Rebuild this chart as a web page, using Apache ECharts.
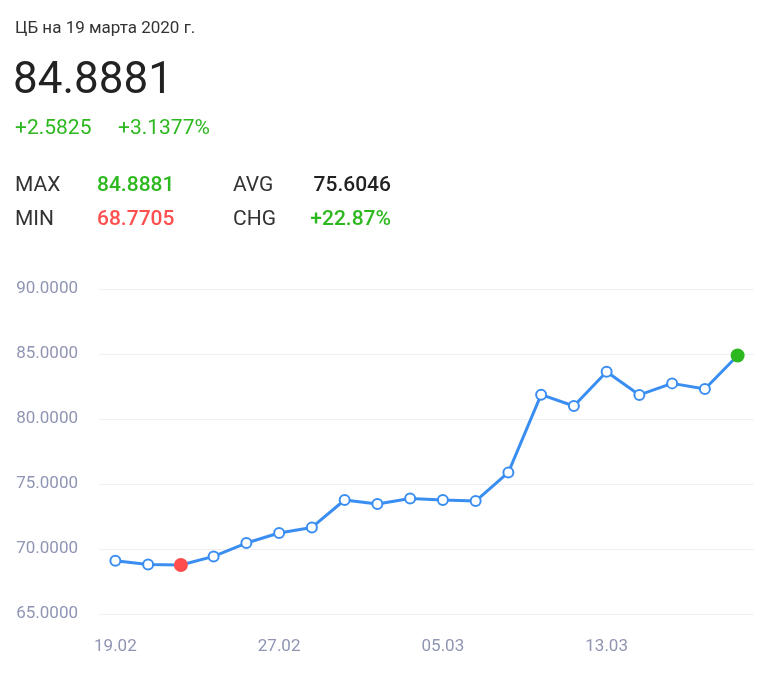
<!DOCTYPE html>
<html><head><meta charset="utf-8">
<script src="https://cdn.jsdelivr.net/npm/echarts@6/dist/echarts.min.js"></script>
<style>
html,body{margin:0;padding:0;background:#fff;width:768px;height:678px;overflow:hidden;font-family:Roboto,"Noto Sans",sans-serif;}
.t{position:absolute;white-space:nowrap;}
#chart{position:absolute;left:0;top:0;width:768px;height:678px;}
</style></head>
<body>
<div id="chart"></div>
<div class="t" style="left:15px;top:17px;font-size:17px;line-height:20px;color:#333;">ЦБ на 19 марта 2020 г.</div>
<div class="t" style="left:13px;top:52px;font-size:44px;line-height:52px;color:#222;">84.8881</div>
<div class="t" style="left:15px;top:115px;font-size:21px;line-height:24px;color:#2db81f;">+2.5825</div>
<div class="t" style="left:118px;top:115px;font-size:21px;line-height:24px;color:#2db81f;">+3.1377%</div>
<div class="t" style="left:15px;top:172px;font-size:21px;line-height:24px;color:#333;">MAX</div>
<div class="t" style="left:97px;top:172px;font-size:21px;line-height:24px;color:#2db81f;font-weight:500;">84.8881</div>
<div class="t" style="left:233px;top:172px;font-size:21px;line-height:24px;color:#333;">AVG</div>
<div class="t" style="left:271px;width:120px;text-align:right;top:172px;font-size:21px;line-height:24px;color:#222;font-weight:500;">75.6046</div>
<div class="t" style="left:15px;top:206px;font-size:21px;line-height:24px;color:#333;">MIN</div>
<div class="t" style="left:97px;top:206px;font-size:21px;line-height:24px;color:#ff5050;font-weight:500;">68.7705</div>
<div class="t" style="left:233px;top:206px;font-size:21px;line-height:24px;color:#333;">CHG</div>
<div class="t" style="left:271px;width:120px;text-align:right;top:206px;font-size:21px;line-height:24px;color:#2db81f;font-weight:500;">+22.87%</div>
<script>
var dates = ["19.02","20.02","21.02","22.02","26.02","27.02","28.02","29.02","03.03","04.03","05.03","06.03","07.03","11.03","12.03","13.03","14.03","17.03","18.03","19.03"];
var rates = [69.09,68.80,68.7705,69.43,70.46,71.23,71.66,73.77,73.46,73.89,73.77,73.69,75.89,81.87,81.00,83.64,81.85,82.74,82.3056,84.8881];
var yTicks = [65,70,75,80,85,90];
var minIndex = 2;
var maxIndex = 19;

var seriesData = rates.map(function(v,i){
  if(i===minIndex) return {value:v,symbol:'circle',symbolSize:14,itemStyle:{color:'#ff4d4d',borderWidth:0}};
  if(i===maxIndex) return {value:v,symbol:'circle',symbolSize:14,itemStyle:{color:'#2db81f',borderWidth:0}};
  return v;
});

var chart = echarts.init(document.getElementById('chart'),null,{renderer:'canvas'});
chart.setOption({
  animation:false,
  grid:{left:99,right:14,top:289,bottom:64,containLabel:false},
  xAxis:{type:'category',data:dates,boundaryGap:true,
    axisLine:{show:false},axisTick:{show:false},
    axisLabel:{interval:4,color:'#8f95b3',fontSize:17,margin:24,fontFamily:'Roboto'},
    splitLine:{show:false}},
  yAxis:{type:'value',min:yTicks[0],max:yTicks[yTicks.length-1],interval:5,
    axisLine:{show:false},axisTick:{show:false},
    axisLabel:{color:'#8f95b3',fontSize:17,margin:21,fontFamily:'Roboto',formatter:function(v){return v.toFixed(4);}},
    splitLine:{lineStyle:{color:'#eef0f5',width:1}}},
  series:[{type:'line',data:seriesData,
    lineStyle:{color:'#3a8ef2',width:3},
    itemStyle:{color:'#fff',borderColor:'#3a8ef2',borderWidth:2},
    symbol:'circle',symbolSize:10,showAllSymbol:true}]
});
</script>
</body></html>
